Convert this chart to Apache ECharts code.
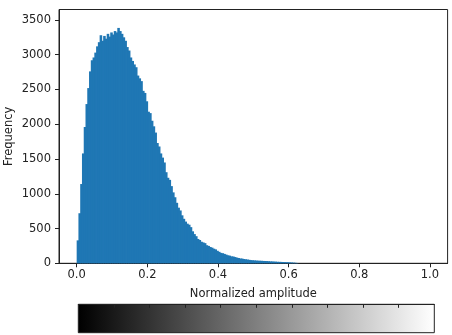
<!DOCTYPE html>
<html><head><meta charset="utf-8">
<script src="https://cdn.jsdelivr.net/npm/echarts@6/dist/echarts.min.js"></script>
<style>html,body{margin:0;padding:0;background:#fff}#c{width:452px;height:335px}</style>
</head><body><div id="c"></div>
<script>
// Histogram bin width (normalized amplitude units)
const binWidth = 0.005;
// Frequency per bin
const counts = [
  330, 720, 1140, 1580, 1960, 2290, 2520, 2760, 2920, 2960,
  3030, 3120, 3180, 3280, 3200, 3270, 3230, 3300, 3260, 3320,
  3290, 3340, 3320, 3385, 3340, 3300, 3250, 3200, 3110, 3060,
  2960, 2910, 2860, 2820, 2700, 2660, 2620, 2480, 2450, 2330,
  2180, 2160, 2050, 1970, 1880, 1730, 1680, 1580, 1520, 1450,
  1310, 1230, 1200, 1110, 1020, 950, 870, 800, 760, 690,
  640, 600, 570, 555, 520, 460, 420, 390, 350, 335,
  310, 300, 290, 260, 250, 235, 225, 210, 200, 180,
  165, 150, 145, 135, 125, 115, 110, 100, 98, 90,
  82, 76, 70, 68, 62, 58, 55, 50, 46, 44,
  42, 40, 38, 37, 36, 34, 33, 32, 30, 28,
  27, 25, 24, 22, 21, 20, 19, 18, 17, 16,
  14, 12, 10, 8, 5
];
const xTicks = [0, 0.2, 0.4, 0.6, 0.8, 1.0];
const yTicks = [0, 500, 1000, 1500, 2000, 2500, 3000, 3500];
const colorbarTicks = [0.1, 0.2, 0.3, 0.4, 0.5, 0.6, 0.7, 0.8, 0.9];
const xName = 'Normalized amplitude';
const yName = 'Frequency';

const histData = counts.map((c, i) => [i * binWidth, (i + 1) * binWidth, c]);
const font = 'DejaVu Sans';
const ink = '#222';

const chart = echarts.init(document.getElementById('c'), null, {renderer: 'canvas'});
chart.setOption({
  animation: false,
  backgroundColor: '#fff',
  grid: [
    {left: 59, right: 4.4, top: 9.5, bottom: 71.7, containLabel: false, outerBoundsMode: 'none',
     show: true, borderColor: ink, borderWidth: 1, backgroundColor: 'transparent'},
    {left: 78.3, right: 17.7, top: 304.3, height: 28.4, containLabel: false, outerBoundsMode: 'none',
     show: true, borderColor: ink, borderWidth: 1, backgroundColor: 'transparent', z: 3}
  ],
  xAxis: [
    {
      type: 'value', gridIndex: 0, min: -0.05, max: 1.05, position: 'bottom',
      axisLine: {show: true, onZero: false, lineStyle: {color: ink, width: 1}},
      axisTick: {show: true, customValues: xTicks, length: 4, lineStyle: {color: ink}},
      axisLabel: {show: true, customValues: xTicks, formatter: v => v.toFixed(1), margin: 6, fontSize: 11.5, color: ink, fontFamily: font},
      splitLine: {show: false},
      name: xName, nameLocation: 'middle', nameGap: 25, nameMoveOverlap: false,
      nameTextStyle: {fontSize: 11.5, color: ink, fontFamily: font}
    },
    {
      type: 'value', gridIndex: 1, min: 0, max: 1, position: 'top', z: 10,
      axisLine: {show: true, onZero: false, lineStyle: {color: ink, width: 1}},
      axisTick: {show: true, inside: true, customValues: colorbarTicks, length: 3.5, lineStyle: {color: ink, width: 1}},
      axisLabel: {show: false},
      splitLine: {show: false}
    }
  ],
  yAxis: [
    {
      type: 'value', gridIndex: 0, min: 0, max: 3650, position: 'left',
      axisLine: {show: true, onZero: false, lineStyle: {color: ink, width: 1}},
      axisTick: {show: true, customValues: yTicks, length: 4, lineStyle: {color: ink}},
      axisLabel: {show: true, customValues: yTicks, formatter: v => String(v), margin: 8, fontSize: 11.5, color: ink, fontFamily: font},
      splitLine: {show: false},
      name: yName, nameLocation: 'middle', nameGap: 44, nameRotate: 90, nameMoveOverlap: false,
      nameTextStyle: {fontSize: 11.5, color: ink, fontFamily: font}
    },
    {type: 'value', gridIndex: 1, min: 0, max: 1, show: false, axisLine: {onZero: false}}
  ],
  series: [
    {
      type: 'custom', xAxisIndex: 0, yAxisIndex: 0,
      data: histData,
      encode: {x: [0, 1], y: 2},
      renderItem: function (params, api) {
        const p0 = api.coord([api.value(0), api.value(2)]);
        const p1 = api.coord([api.value(1), 0]);
        return {
          type: 'rect',
          shape: {x: p0[0], y: p0[1], width: p1[0] - p0[0] + 0.8, height: p1[1] - p0[1]},
          style: {fill: '#1f77b4'}
        };
      }
    },
    {
      type: 'custom', xAxisIndex: 1, yAxisIndex: 1,
      data: [[0, 1, 0, 1]],
      encode: {x: [0, 1], y: [2, 3]},
      z: 1,
      renderItem: function (params, api) {
        const p0 = api.coord([api.value(0), api.value(3)]);
        const p1 = api.coord([api.value(1), api.value(2)]);
        return {
          type: 'rect',
          shape: {x: p0[0], y: p0[1], width: p1[0] - p0[0], height: p1[1] - p0[1]},
          style: {fill: new echarts.graphic.LinearGradient(0, 0, 1, 0, [
            {offset: 0, color: '#000000'},
            {offset: 1, color: '#ffffff'}
          ])}
        };
      }
    }
  ]
});
</script>
</body></html>
